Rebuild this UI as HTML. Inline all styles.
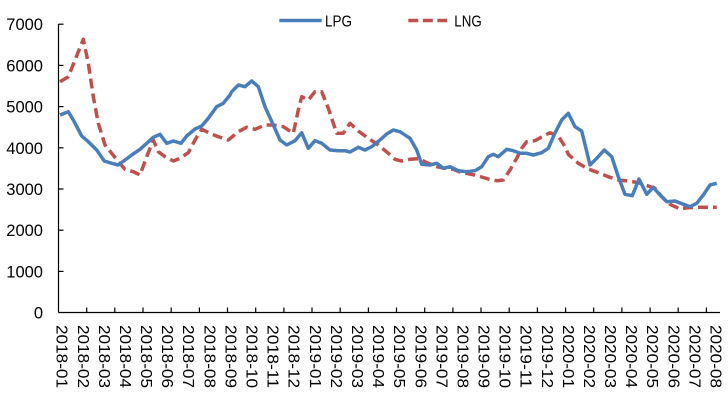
<!DOCTYPE html>
<html>
<head>
<meta charset="utf-8">
<style>
  html, body { margin:0; padding:0; background:#ffffff; }
  svg { display:block; }
  text { font-family: "Liberation Sans", Arial, sans-serif; fill:#000; }
</style>
</head>
<body>
<svg width="728" height="403" viewBox="0 0 728 403" xmlns="http://www.w3.org/2000/svg">
  <rect x="0" y="0" width="728" height="403" fill="#ffffff"/>

  <!-- Y axis labels -->
  <g font-size="16.5" text-anchor="end">
    <text x="43" y="30.2">7000</text>
    <text x="43" y="71.4">6000</text>
    <text x="43" y="112.6">5000</text>
    <text x="43" y="153.8">4000</text>
    <text x="43" y="195.0">3000</text>
    <text x="43" y="236.2">2000</text>
    <text x="43" y="277.4">1000</text>
    <text x="43" y="318.6">0</text>
  </g>

  <!-- Axes -->
  <g stroke="#000" stroke-width="1.2" fill="none">
    <line x1="58.5" y1="24" x2="58.5" y2="312.5"/>
    <line x1="58.5" y1="312.5" x2="720" y2="312.5"/>
    <!-- y ticks -->
    <line x1="58.5" y1="24.2" x2="63.5" y2="24.2"/>
    <line x1="58.5" y1="65.4" x2="63.5" y2="65.4"/>
    <line x1="58.5" y1="106.6" x2="63.5" y2="106.6"/>
    <line x1="58.5" y1="147.8" x2="63.5" y2="147.8"/>
    <line x1="58.5" y1="189.0" x2="63.5" y2="189.0"/>
    <line x1="58.5" y1="230.2" x2="63.5" y2="230.2"/>
    <line x1="58.5" y1="271.4" x2="63.5" y2="271.4"/>
    <!-- x ticks -->
    <path d="M86.7 312.5v-5 M114.8 312.5v-5 M143.0 312.5v-5 M171.2 312.5v-5 M199.4 312.5v-5 M227.5 312.5v-5 M255.7 312.5v-5 M283.9 312.5v-5 M312.0 312.5v-5 M340.2 312.5v-5 M368.4 312.5v-5 M396.5 312.5v-5 M424.7 312.5v-5 M452.9 312.5v-5 M481.0 312.5v-5 M509.2 312.5v-5 M537.4 312.5v-5 M565.6 312.5v-5 M593.7 312.5v-5 M621.9 312.5v-5 M650.1 312.5v-5 M678.2 312.5v-5 M706.4 312.5v-5"/>
  </g>

  <!-- X axis labels (rotated 90deg clockwise) -->
  <g font-size="16" >
    <text transform="translate(62.5,325) rotate(90)" dy="0.36em" textLength="63" lengthAdjust="spacingAndGlyphs">2018-01</text>
    <text transform="translate(83.6,325) rotate(90)" dy="0.36em" textLength="63" lengthAdjust="spacingAndGlyphs">2018-02</text>
    <text transform="translate(104.7,325) rotate(90)" dy="0.36em" textLength="63" lengthAdjust="spacingAndGlyphs">2018-03</text>
    <text transform="translate(125.8,325) rotate(90)" dy="0.36em" textLength="63" lengthAdjust="spacingAndGlyphs">2018-04</text>
    <text transform="translate(146.9,325) rotate(90)" dy="0.36em" textLength="63" lengthAdjust="spacingAndGlyphs">2018-05</text>
    <text transform="translate(168.0,325) rotate(90)" dy="0.36em" textLength="63" lengthAdjust="spacingAndGlyphs">2018-06</text>
    <text transform="translate(189.0,325) rotate(90)" dy="0.36em" textLength="63" lengthAdjust="spacingAndGlyphs">2018-07</text>
    <text transform="translate(210.1,325) rotate(90)" dy="0.36em" textLength="63" lengthAdjust="spacingAndGlyphs">2018-08</text>
    <text transform="translate(231.2,325) rotate(90)" dy="0.36em" textLength="63" lengthAdjust="spacingAndGlyphs">2018-09</text>
    <text transform="translate(252.3,325) rotate(90)" dy="0.36em" textLength="63" lengthAdjust="spacingAndGlyphs">2018-10</text>
    <text transform="translate(273.4,325) rotate(90)" dy="0.36em" textLength="63" lengthAdjust="spacingAndGlyphs">2018-11</text>
    <text transform="translate(294.5,325) rotate(90)" dy="0.36em" textLength="63" lengthAdjust="spacingAndGlyphs">2018-12</text>
    <text transform="translate(315.6,325) rotate(90)" dy="0.36em" textLength="63" lengthAdjust="spacingAndGlyphs">2019-01</text>
    <text transform="translate(336.7,325) rotate(90)" dy="0.36em" textLength="63" lengthAdjust="spacingAndGlyphs">2019-02</text>
    <text transform="translate(357.8,325) rotate(90)" dy="0.36em" textLength="63" lengthAdjust="spacingAndGlyphs">2019-03</text>
    <text transform="translate(378.9,325) rotate(90)" dy="0.36em" textLength="63" lengthAdjust="spacingAndGlyphs">2019-04</text>
    <text transform="translate(400.0,325) rotate(90)" dy="0.36em" textLength="63" lengthAdjust="spacingAndGlyphs">2019-05</text>
    <text transform="translate(421.1,325) rotate(90)" dy="0.36em" textLength="63" lengthAdjust="spacingAndGlyphs">2019-06</text>
    <text transform="translate(442.1,325) rotate(90)" dy="0.36em" textLength="63" lengthAdjust="spacingAndGlyphs">2019-07</text>
    <text transform="translate(463.2,325) rotate(90)" dy="0.36em" textLength="63" lengthAdjust="spacingAndGlyphs">2019-08</text>
    <text transform="translate(484.3,325) rotate(90)" dy="0.36em" textLength="63" lengthAdjust="spacingAndGlyphs">2019-09</text>
    <text transform="translate(505.4,325) rotate(90)" dy="0.36em" textLength="63" lengthAdjust="spacingAndGlyphs">2019-10</text>
    <text transform="translate(526.5,325) rotate(90)" dy="0.36em" textLength="63" lengthAdjust="spacingAndGlyphs">2019-11</text>
    <text transform="translate(547.6,325) rotate(90)" dy="0.36em" textLength="63" lengthAdjust="spacingAndGlyphs">2019-12</text>
    <text transform="translate(568.7,325) rotate(90)" dy="0.36em" textLength="63" lengthAdjust="spacingAndGlyphs">2020-01</text>
    <text transform="translate(589.8,325) rotate(90)" dy="0.36em" textLength="63" lengthAdjust="spacingAndGlyphs">2020-02</text>
    <text transform="translate(610.9,325) rotate(90)" dy="0.36em" textLength="63" lengthAdjust="spacingAndGlyphs">2020-03</text>
    <text transform="translate(632.0,325) rotate(90)" dy="0.36em" textLength="63" lengthAdjust="spacingAndGlyphs">2020-04</text>
    <text transform="translate(653.0,325) rotate(90)" dy="0.36em" textLength="63" lengthAdjust="spacingAndGlyphs">2020-05</text>
    <text transform="translate(674.1,325) rotate(90)" dy="0.36em" textLength="63" lengthAdjust="spacingAndGlyphs">2020-06</text>
    <text transform="translate(695.2,325) rotate(90)" dy="0.36em" textLength="63" lengthAdjust="spacingAndGlyphs">2020-07</text>
    <text transform="translate(716.3,325) rotate(90)" dy="0.36em" textLength="63" lengthAdjust="spacingAndGlyphs">2020-08</text>
  </g>

  <!-- LNG series (dashed red) -->
  <polyline fill="none" stroke="#c0504d" stroke-width="3.5" stroke-dasharray="10 5" stroke-linejoin="round"
    points="60,81.7 68.3,76.7 75,60 83.3,39.3 88.3,63.3 93.3,96.7 98.3,123.3 105,145 111.7,153.3 118.3,161.7 125,169.3 133.3,171.7 140,175 146.7,156.7 153.3,140 158.3,151.7 165,156.7 173.3,161 180,158.3 188.3,152.7 195,140 201.7,129.3 210,133.3 218.3,136.7 228.3,140 238.3,131.7 246.7,127.3 255,129.3 265,125 273.3,125 283.3,126.7 293.3,133.3 298.3,110 301.7,96.7 308.3,100 315,91.7 321.7,91.7 328.3,108.3 336.7,133.3 343.3,133.3 350,123.3 358.3,131 368.3,138.3 378.3,145 388.3,153.3 395,159.3 401.7,161 410,159.3 418.3,158.7 428.3,163.3 436.7,166.7 445,168.3 453.3,169.3 461.7,172.7 470,174 478.3,176 488.3,179 496.7,180.7 503.3,180 510,170 516.7,158.3 521.7,148.3 526.7,141.7 535,140.7 543.3,136 550,132.7 558.3,136 565,146.7 568.3,154.3 578.3,163.3 588.3,169 598.3,172.7 608.3,176.7 618.3,180 628.3,181 638.3,182.7 648.3,186 655,188.3 661.7,196.7 670,204.3 680,209 688.3,207.7 696.7,207.3 706.7,207.3 716.7,207.3"/>

  <!-- LPG series (solid blue) -->
  <polyline fill="none" stroke="#4a7ebb" stroke-width="3.5" stroke-linejoin="round"
    points="60,115 68.3,111.7 73.3,120 81.7,136 88.3,141.7 96.7,150 104.3,161 111.7,163.3 118.3,165 125,160 131.7,155 140,149.3 146.7,143.3 153.3,137.3 160,134.3 166.7,143.3 173.3,141 181,143.3 186.7,136 195,129 201.7,126 208.3,118.3 216.7,106.7 223.3,103.3 230,95 231.7,91.7 238.3,85 245,86.7 251.7,81 258.3,86.7 265,106.7 273.3,125 280,140 286.7,145 295,140.7 301.7,132.7 308.3,148.3 315,140.7 321.7,143.3 330,150 338.3,150.7 345,150.7 350,152 358.3,147.3 365,150 371.7,146.7 380,140 386.7,134 393.3,130 400,131.7 410,138.3 416.7,150 421.7,164.3 430,165 436.7,163.3 443.3,168.3 450,166.7 458.3,170.7 466.7,171.7 475,170.7 481.7,166.7 488.3,156.7 493.3,154.3 498.3,156.7 506.7,149.3 513.3,150.7 520,153.3 526.7,153.3 533.3,155 541.7,152.7 548.3,148.3 555,133 561.7,120 568.3,113.3 575,126.7 581.7,131 590,165 596.7,158.3 604.3,150 611.7,156.7 618.3,176.7 625,194.3 632.3,195.7 639,179 646.7,194.3 653.3,187.3 660,195 666.7,201.7 675,201 683.3,204.3 690,206.7 696.7,203.3 703.3,195 710,185 716.7,183.3"/>

  <!-- Legend -->
  <line x1="279.3" y1="20.5" x2="321.7" y2="20.5" stroke="#4a7ebb" stroke-width="3.5"/>
  <text x="325" y="26.7" font-size="16" textLength="27" lengthAdjust="spacingAndGlyphs">LPG</text>
  <line x1="408.3" y1="20.5" x2="447" y2="20.5" stroke="#c0504d" stroke-width="3.5" stroke-dasharray="10 4.5"/>
  <text x="454.3" y="26.7" font-size="16" textLength="27.4" lengthAdjust="spacingAndGlyphs">LNG</text>
</svg>
</body>
</html>
